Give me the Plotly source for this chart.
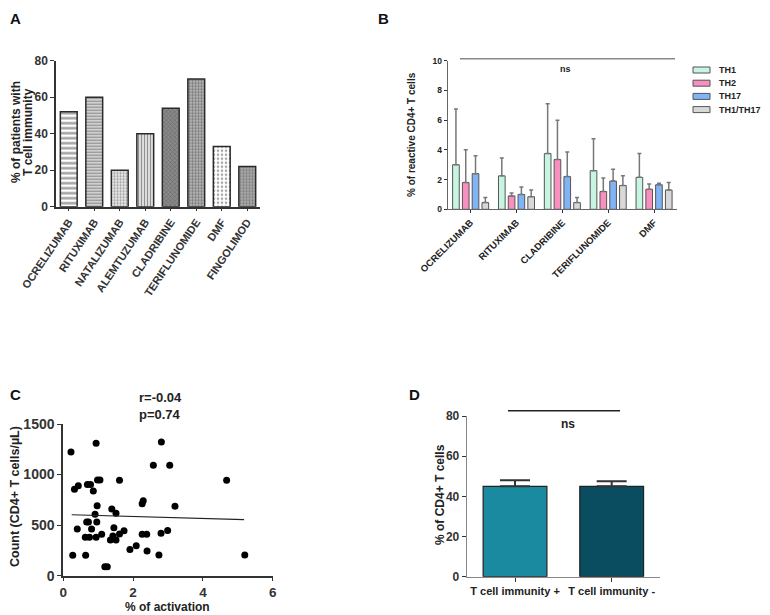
import plotly.graph_objects as go

# ---------------- Data ----------------
# Panel A
drugs_a = ["OCRELIZUMAB", "RITUXIMAB", "NATALIZUMAB", "ALEMTUZUMAB",
           "CLADRIBINE", "TERIFLUNOMIDE", "DMF", "FINGOLIMOD"]
pct_immunity = [52, 60, 20, 40, 54, 70, 33, 22]

# Panel B
drugs_b = ["OCRELIZUMAB", "RITUXIMAB", "CLADRIBINE", "TERIFLUNOMIDE", "DMF"]
subsets = ["TH1", "TH2", "TH17", "TH1/TH17"]
th1 = [3.0, 2.25, 3.75, 2.6, 2.15]
th2 = [1.8, 0.9, 3.35, 1.2, 1.35]
th17 = [2.4, 1.0, 2.2, 1.9, 1.65]
th1_17 = [0.45, 0.85, 0.45, 1.6, 1.3]
th1_err = [3.75, 1.2, 3.35, 2.15, 1.6]
th2_err = [2.2, 0.2, 2.65, 0.9, 0.35]
th17_err = [1.2, 0.5, 1.65, 0.8, 0.1]
th1_17_err = [0.35, 0.45, 0.35, 0.65, 0.5]

# Panel C
activation = [0.22, 0.27, 0.32, 0.43, 0.40, 0.64, 0.69, 0.78, 0.86, 0.94,
              0.98, 1.05, 0.97, 0.91, 0.72, 0.67, 0.96, 0.63, 0.75, 0.94,
              0.81, 1.10, 1.19, 1.26, 1.39, 1.51, 1.45, 1.35, 1.42, 1.51,
              1.61, 1.74, 1.61, 1.91, 2.09, 2.26, 2.29, 2.26, 2.39, 2.40,
              2.74, 2.80, 2.99, 2.58, 2.81, 3.05, 3.20, 4.68, 5.20]
cd4_count = [1223, 201, 854, 890, 462, 201, 903, 903, 837, 1309,
             946, 946, 692, 607, 531, 531, 531, 379, 379, 379,
             462, 409, 89, 89, 659, 617, 475, 353, 392, 353,
             412, 445, 943, 260, 297, 712, 742, 409, 409, 244,
             204, 419, 448, 1091, 1322, 1091, 686, 943, 204]
fit_x = [0.24, 5.18]
fit_intercept = 605.0
fit_slope = -9.9
stats_lines = ["r=-0.04", "p=0.74"]

# Panel D
groups_d = ["T cell immunity +", "T cell immunity -"]
pct_cd4 = [45, 45]
pct_cd4_err = [3.0, 2.5]

# ---------------- Figure ----------------
OFF = 8                       # default page margin around the plot div
W, H = 770 - OFF, 615 - OFF
FONT = "Liberation Sans, Arial, sans-serif"


def px_x(p):
    return (p - OFF) / W


def px_y(p):
    return 1 - (p - OFF) / H


fig = go.Figure()

# Panel A
fig.add_trace(go.Bar(
    x=drugs_a, y=pct_immunity, width=0.66, xaxis="x", yaxis="y",
    showlegend=False,
    marker=dict(
        color=["white", "#d0d0d0", "#e6e6e6", "#dcdcdc", "#8a8a8a", "#b0b0b0", "white", "#a8a8a8"],
        line=dict(color="#2a2a2a", width=1.5),
        pattern=dict(
            shape=["-", "-", ".", "|", "x", "+", ".", "."],
            fgcolor=["#111111", "#777777", "#9a9a9a", "#777777", "#444444", "#444444", "#8a8a8a", "#6a6a6a"],
            size=[5, 3, 3, 3, 3, 3, 4, 3],
            solidity=[0.5, 0.35, 0.35, 0.35, 0.35, 0.4, 0.3, 0.35],
            fillmode="overlay",
        ),
    ),
))

# Panel B
b_colors = ["#c8f5e2", "#f78fbf", "#80b4f5", "#d8d8d8"]
b_vals = [th1, th2, th17, th1_17]
b_errs = [th1_err, th2_err, th17_err, th1_17_err]
for name, col, vals, errs in zip(subsets, b_colors, b_vals, b_errs):
    fig.add_trace(go.Bar(
        x=drugs_b, y=vals, name=name, xaxis="x2", yaxis="y2", showlegend=False,
        marker=dict(color=col, line=dict(color="#555555", width=1)),
        error_y=dict(type="data", array=errs, arrayminus=[0] * len(errs),
                     symmetric=False, color="#777777", thickness=1.5, width=2),
    ))

# Panel C
fig.add_trace(go.Scatter(
    x=activation, y=cd4_count, mode="markers", xaxis="x3", yaxis="y3",
    showlegend=False, marker=dict(color="black", size=7),
))
fig.add_trace(go.Scatter(
    x=fit_x, y=[fit_intercept + fit_slope * v for v in fit_x], mode="lines",
    xaxis="x3", yaxis="y3", showlegend=False,
    line=dict(color="#222222", width=1.2),
))

# Panel D
fig.add_trace(go.Bar(
    x=groups_d, y=pct_cd4, width=0.66, xaxis="x4", yaxis="y4", showlegend=False,
    marker=dict(color=["#1a8aa0", "#0a4c60"], line=dict(color="#222222", width=1.2)),
    error_y=dict(type="data", array=pct_cd4_err, arrayminus=[0, 0], symmetric=False,
                 color="#333333", thickness=2, width=15),
))

axis_common = dict(showline=True, linecolor="#333333", linewidth=1.5,
                   showgrid=False, zeroline=False, ticks="outside",
                   tickcolor="#333333", ticklen=4, tickwidth=1, automargin=False)


def bold(size, color="#333333"):
    return dict(family=FONT, size=size, color=color, weight="bold")


fig.update_layout(
    width=W, height=H,
    margin=dict(l=0, r=0, t=0, b=0, autoexpand=False),
    paper_bgcolor="white", plot_bgcolor="white",
    font=dict(family=FONT, color="#333333"),
    showlegend=False,
    barmode="group", bargap=0.146, bargroupgap=0.32,
    # Panel A
    xaxis=dict(domain=[px_x(56), px_x(260)], anchor="y", range=[-0.5, 7.5],
               tickangle=-56, tickfont=bold(11), **{**axis_common, "ticklen": 3}),
    yaxis=dict(domain=[px_y(206.7), px_y(60.7)], anchor="x", range=[0, 80],
               tickvals=[0, 20, 40, 60, 80], tickfont=bold(12), **axis_common),
    # Panel B
    xaxis2=dict(domain=[px_x(447.7), px_x(677)], anchor="y2", range=[-0.5, 4.5],
                tickangle=-45, tickfont=bold(9.5, "#222222"),
                **{**axis_common, "linewidth": 1.2, "linecolor": "#666666", "ticklen": 3}),
    yaxis2=dict(domain=[px_y(209.3), px_y(60.7)], anchor="x2", range=[0, 10],
                tickvals=[0, 2, 4, 6, 8, 10], tickfont=bold(8.5, "#222222"),
                **{**axis_common, "linewidth": 1.2, "linecolor": "#666666", "ticklen": 3}),
    # Panel C
    xaxis3=dict(domain=[px_x(63.3), px_x(272.7)], anchor="y3", range=[0, 6],
                tickvals=[0, 2, 4, 6], tickfont=bold(13.5),
                **{**axis_common, "linewidth": 2, "ticklen": 3}),
    yaxis3=dict(domain=[px_y(575.7), px_y(424)], anchor="x3", range=[0, 1500],
                tickvals=[0, 500, 1000, 1500], tickfont=bold(14),
                **{**axis_common, "linewidth": 2}),
    # Panel D
    xaxis4=dict(domain=[px_x(466.7), px_x(660)], anchor="y4", range=[-0.5, 1.5],
                tickangle=0, tickfont=bold(11, "#222222"),
                **{**axis_common, "linecolor": "#888888", "linewidth": 1}),
    yaxis4=dict(domain=[px_y(576.7), px_y(416)], anchor="x4", range=[0, 80],
                tickvals=[0, 20, 40, 60, 80], tickfont=bold(12),
                **{**axis_common, "linecolor": "#888888", "linewidth": 1}),
)

# Manual legend for panel B
for i, (name, col) in enumerate(zip(subsets, b_colors)):
    yc = 70 + i * 13.2
    fig.add_shape(type="rect", xref="paper", yref="paper",
                  x0=px_x(693), x1=px_x(710), y0=px_y(yc + 3), y1=px_y(yc - 3),
                  fillcolor=col, line=dict(color="#555555", width=1))
    fig.add_annotation(text=name, x=px_x(717), y=px_y(yc), xref="paper", yref="paper",
                       showarrow=False, xanchor="left", yanchor="middle",
                       font=bold(9, "#222222"))

# Significance bars
fig.add_shape(type="line", xref="paper", yref="paper",
              x0=px_x(460), x1=px_x(675), y0=px_y(58.7), y1=px_y(58.7),
              line=dict(color="#888888", width=1.5))
fig.add_shape(type="line", xref="paper", yref="paper",
              x0=px_x(508), x1=px_x(620), y0=px_y(410.7), y1=px_y(410.7),
              line=dict(color="#222222", width=1.5))

# Panel letters (anchored at their top-left corner)
for letter, lx, ly in [("A", 8, 8), ("B", 376, 8), ("C", 8, 384), ("D", 407, 384)]:
    fig.add_annotation(text=letter, x=px_x(lx), y=px_y(ly), xref="paper", yref="paper",
                       showarrow=False, xanchor="left", yanchor="top",
                       font=bold(15, "#111111"))

annos = [
    dict(text="ns", x=565, y=69, size=9),
    dict(text="ns", x=568, y=424, size=12),
    dict(text=stats_lines[0], x=160, y=397, size=13),
    dict(text=stats_lines[1], x=160, y=414, size=13),
    # axis titles
    dict(text="% of patients with", x=16, y=132, size=12, angle=-90),
    dict(text="T cell immunity", x=28, y=132, size=12, angle=-90),
    dict(text="% of reactive CD4+ T cells", x=412, y=135, size=10, angle=-90),
    dict(text="Count (CD4+ T cells/µL)", x=15, y=497, size=12.5, angle=-90),
    dict(text="% of activation", x=167, y=607, size=12),
    dict(text="% of CD4+ T cells", x=440, y=495, size=12, angle=-90),
]
for a in annos:
    fig.add_annotation(text=a["text"], x=px_x(a["x"]), y=px_y(a["y"]),
                       xref="paper", yref="paper", textangle=a.get("angle", 0),
                       showarrow=False, xanchor="center", yanchor="middle",
                       font=bold(a["size"], "#222222"))

fig.write_html("out.html")
